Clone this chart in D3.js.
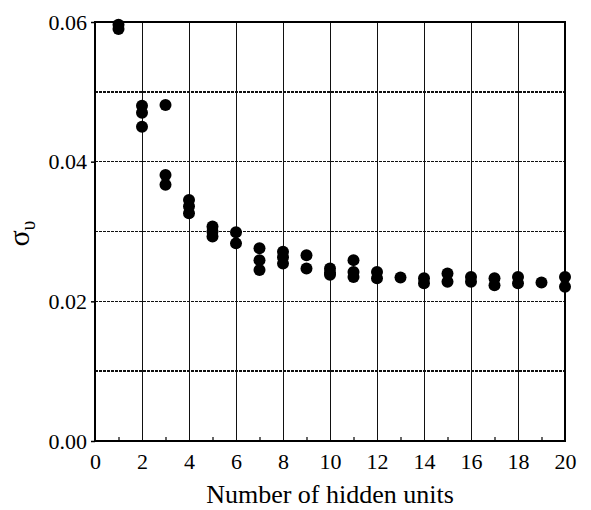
<!DOCTYPE html>
<html lang="en">
<head>
    <meta charset="UTF-8">
    <script src="https://cdn.jsdelivr.net/npm/d3@7"></script>
    <title>Sigma vs hidden units</title>
    <style>
        body { margin: 0; background: #ffffff; }
        svg { display: block; }
    </style>
</head>
<body>
<svg width="591" height="510"></svg>

<script>
    const WIDTH = 591;
    const HEIGHT = 510;
    const MARGIN = {left: 95, right: 26, top: 22, bottom: 69};
    const FONT = "'Times New Roman', Times, 'Liberation Serif', serif";

    // data
    const hiddenUnits = [1, 2, 3, 4, 5, 6, 7, 8, 9, 10, 11, 12, 13, 14, 15, 16, 17, 18, 19, 20];
    const sigmaValues = [
        [0.0596, 0.0590],
        [0.0480, 0.0470, 0.0450],
        [0.0481, 0.0381, 0.0367],
        [0.0345, 0.0336, 0.0326],
        [0.0307, 0.0300, 0.0293],
        [0.0299, 0.0283],
        [0.0276, 0.0259, 0.0245],
        [0.0271, 0.0263, 0.0254],
        [0.0266, 0.0247],
        [0.0247, 0.0241, 0.0238],
        [0.0259, 0.0242, 0.0235],
        [0.0242, 0.0233],
        [0.0234],
        [0.0233, 0.0226],
        [0.0240, 0.0228],
        [0.0235, 0.0228],
        [0.0233, 0.0223],
        [0.0235, 0.0226],
        [0.0227],
        [0.0235, 0.0221]
    ];
    const xTicks = [0, 2, 4, 6, 8, 10, 12, 14, 16, 18, 20];
    const xMinorTicks = [1, 3, 5, 7, 9, 11, 13, 15, 17, 19];
    const yTicks = [0, 0.02, 0.04, 0.06];
    const yGrid = [0.01, 0.02, 0.03, 0.04, 0.05];
    const xLabel = "Number of hidden units";

    const svg = d3.select("svg");

    const x = d3.scaleLinear()
        .domain([0, 20])
        .range([MARGIN.left, WIDTH - MARGIN.right]);

    const y = d3.scaleLinear()
        .domain([0, 0.06])
        .range([HEIGHT - MARGIN.bottom, MARGIN.top]);

    const plotW = WIDTH - MARGIN.left - MARGIN.right;
    const plotH = HEIGHT - MARGIN.top - MARGIN.bottom;

    // grid
    svg.append("g")
        .attr("class", "grid x")
        .attr("shape-rendering", "crispEdges")
        .selectAll("line")
        .data(xTicks.filter(d => d > 0 && d < 20))
        .enter()
        .append("line")
        .attr("x1", d => x(d)).attr("x2", d => x(d))
        .attr("y1", y(0)).attr("y2", y(0.06))
        .attr("stroke", "#111")
        .attr("stroke-width", 1);

    svg.append("g")
        .attr("class", "grid y")
        .attr("shape-rendering", "crispEdges")
        .selectAll("line")
        .data(yGrid)
        .enter()
        .append("line")
        .attr("x1", x(0)).attr("x2", x(20))
        .attr("y1", d => y(d)).attr("y2", d => y(d))
        .attr("stroke", "#111")
        .attr("stroke-width", 1.5)
        .attr("stroke-dasharray", "3,1");

    // minor ticks along the bottom
    svg.append("g")
        .attr("class", "axis minor")
        .attr("transform", `translate(0, ${y(0)})`)
        .call(d3.axisBottom(x).tickValues(xMinorTicks).tickSize(-4).tickFormat(""))
        .call(g => g.select(".domain").remove())
        .selectAll("line")
        .attr("stroke", "#000")
        .attr("stroke-width", 1.2);

    // axes
    svg.append("g")
        .attr("class", "axis bottom")
        .attr("transform", `translate(0, ${y(0)})`)
        .call(d3.axisBottom(x).tickValues(xTicks).tickSize(0).tickPadding(12).tickFormat(d3.format("d")))
        .attr("font-family", FONT)
        .attr("font-size", 22)
        .call(g => g.select(".domain").remove());

    svg.append("g")
        .attr("class", "axis left")
        .attr("transform", `translate(${x(0)}, 0)`)
        .call(d3.axisLeft(y).tickValues(yTicks).tickSize(4).tickPadding(4).tickFormat(d3.format(".2f")))
        .attr("font-family", FONT)
        .attr("font-size", 22)
        .call(g => g.select(".domain").remove())
        .call(g => g.selectAll("line").attr("stroke", "#000").attr("stroke-width", 1.5));

    // frame
    svg.append("rect")
        .attr("x", x(0))
        .attr("y", y(0.06))
        .attr("width", plotW)
        .attr("height", plotH)
        .attr("fill", "none")
        .attr("stroke", "#000")
        .attr("stroke-width", 2);

    // points
    const points = [];
    hiddenUnits.forEach((u, i) => {
        sigmaValues[i].forEach(s => points.push({units: u, sigma: s}));
    });

    svg.append("g")
        .attr("class", "points")
        .selectAll("circle")
        .data(points)
        .enter()
        .append("circle")
        .attr("cx", d => x(d.units))
        .attr("cy", d => y(d.sigma))
        .attr("r", 6)
        .attr("fill", "#000");

    // labels
    svg.append("text")
        .attr("x", x(10))
        .attr("y", 503)
        .attr("text-anchor", "middle")
        .attr("font-family", FONT)
        .attr("font-size", 26)
        .text(xLabel);

    const yLab = svg.append("text")
        .attr("transform", `translate(29, ${y(0.03) + 2}) rotate(-90)`)
        .attr("text-anchor", "middle")
        .attr("font-family", FONT)
        .attr("font-size", 30);
    yLab.append("tspan").text("σ");
    yLab.append("tspan")
        .attr("dy", 6)
        .attr("font-size", 20)
        .text("υ");
</script>
</body>
</html>
